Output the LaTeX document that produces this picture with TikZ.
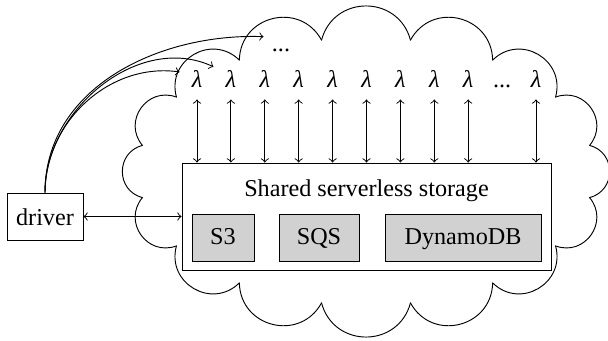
\documentclass[tikz,border=0pt]{standalone}
\usepackage{fontspec}
\setmainfont{Liberation Serif}
\def\pxu{0.43pt}
\begin{document}
\begin{tikzpicture}[x=0.43pt,y=-0.43pt,
  every node/.style={font=\fontsize{10.4pt}{12pt}\selectfont},
  box/.style={draw, rectangle, inner sep=0pt},
  store/.style={box, fill=black!18, minimum height=47*\pxu, text height=8pt, text depth=1.6pt},
  lam/.style={inner sep=0pt, minimum width=34*\pxu, minimum height=40*\pxu, text height=6.9pt, text depth=0pt},
  link/.style={->},
  dlink/.style={<->},
  cloudline/.style={line cap=round}
]
\useasboundingbox (0,0) rectangle (608,341);

% cloud
\foreach \k in {0,...,15}{
  \pgfmathsetmacro\ta{11.25+22.5*\k}
  \pgfmathsetmacro\tb{\ta+22.5}
  \pgfmathsetmacro\xa{366+228*cos(\ta)}
  \pgfmathsetmacro\ya{171.5+134*sin(\ta)}
  \pgfmathsetmacro\xb{366+228*cos(\tb)}
  \pgfmathsetmacro\yb{171.5+134*sin(\tb)}
  \pgfmathsetmacro\ph{atan2(\yb-\ya,\xb-\xa)}
  \pgfmathsetmacro\cl{veclen(\xb-\xa,\yb-\ya)}
  \pgfmathsetmacro\kk{4/3*tan(37.5)*\cl/(2*sin(75))}
  \pgfmathsetmacro\cxa{\xa+\kk*cos(\ph-75)}
  \pgfmathsetmacro\cya{\ya+\kk*sin(\ph-75)}
  \pgfmathsetmacro\cxb{\xb-\kk*cos(\ph+75)}
  \pgfmathsetmacro\cyb{\yb-\kk*sin(\ph+75)}
  \draw[cloudline] (\xa,\ya) .. controls (\cxa,\cya) and (\cxb,\cyb) .. (\xb,\yb);
}

% nodes
\node[box, minimum width=76*\pxu, minimum height=47*\pxu, text height=8pt, text depth=0pt] (driver) at (45,216.5) {driver};
\node[box, minimum width=369*\pxu, minimum height=107*\pxu] (storage) at (366.5,216.5) {};
\node[anchor=base] (stlabel) at (366.5,196) {Shared serverless storage};
\node[store, minimum width=62*\pxu] (s3) at (223,237.5) {S3};
\node[store, minimum width=80*\pxu] (sqs) at (319,237.5) {SQS};
\node[store, minimum width=156*\pxu] (ddb) at (463,237.5) {DynamoDB};

\foreach \k in {0,...,8}{
  \node[lam] (l\k) at (197+33.9*\k,79) {\itshape λ};
}
\node[lam] (ldots) at (197+33.9*9,79) {...};
\node[lam] (l10) at (197+33.9*10,79) {\itshape λ};
\node[lam] (topdots) at (281,43) {...};

% connectors
\foreach \k in {0,...,8,10}{
  \draw[dlink] (l\k.south) -- (l\k.south |- storage.north);
}
\draw[dlink] (driver.east) -- (storage.west);
\draw[link] (driver.north) to[out=90,in=172] (l0.158);
\draw[link] (driver.north) to[out=90,in=155] (l1.145);
\draw[link] (driver.north) to[out=90,in=178] (topdots.160);
\end{tikzpicture}
\end{document}
